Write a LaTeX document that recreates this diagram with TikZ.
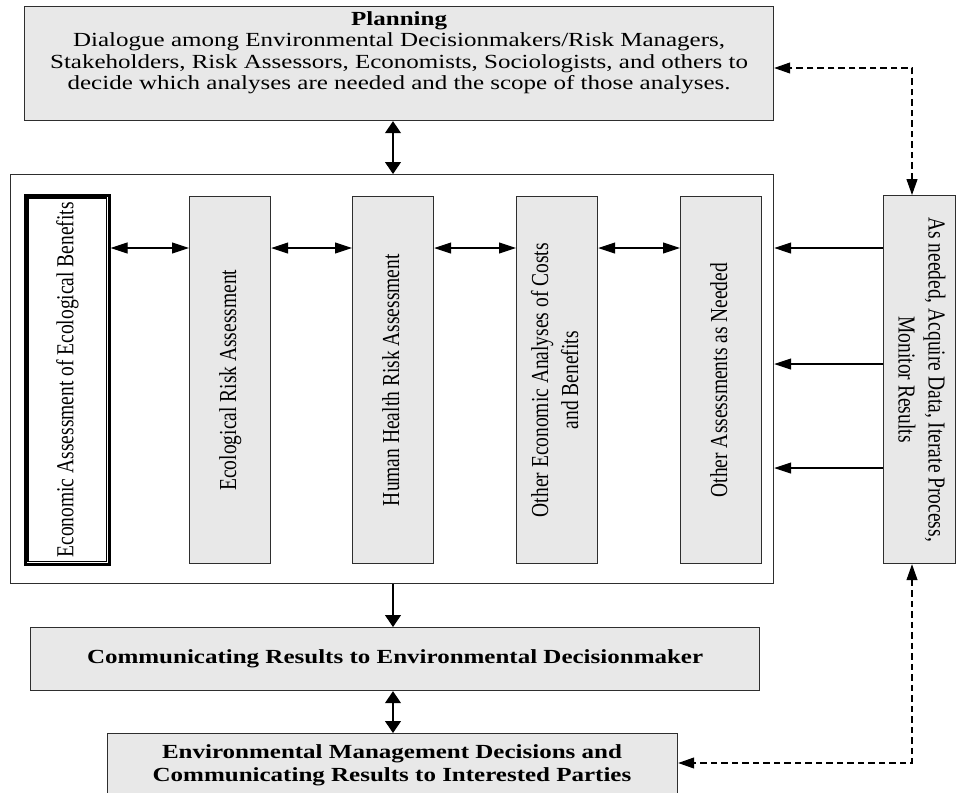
\documentclass[tikz,border=0pt]{standalone}
\usepackage{fontspec}
\setmainfont{Liberation Serif}
\newfontfamily\wideserif[FakeStretch=1.25]{Liberation Serif}
\usetikzlibrary{arrows.meta}

\definecolor{boxfill}{HTML}{E8E8E8}
\definecolor{edge}{HTML}{2E2E2E}

% upright label for the tall assessment boxes
\newcommand\vtxt[2][90]{\rotatebox{#1}{\scalebox{1}[1.25]{\fontsize{19.5}{24}\selectfont\begin{tabular}{@{}c@{}}#2\end{tabular}}}}

\begin{document}
\begin{tikzpicture}[x=1pt,y=-1pt,
  box/.style={draw=edge, line width=1.2pt, fill=boxfill, inner sep=0pt, anchor=north west},
  tallbox/.style={box, minimum width=81pt, minimum height=367pt},
  htext/.style={font=\wideserif\fontsize{20}{22}\selectfont, align=center},
  conn/.style={line width=1.1pt, black},
  vtip/.style={conn, arrows={-Triangle[length=12pt,width=16pt]}},
  vboth/.style={conn, arrows={Triangle[length=12pt,width=16pt]-Triangle[length=12pt,width=16pt]}},
  hboth/.style={conn, arrows={Triangle[length=17pt,width=11pt]-Triangle[length=17pt,width=11pt]}},
  htip/.style={conn, arrows={-Triangle[length=17pt,width=11pt]}},
  feedback/.style={conn, dash pattern=on 6.5pt off 4pt,
    arrows={Triangle[length=16pt,width=11pt]-Triangle[length=16pt,width=11pt]}},
]
\useasboundingbox (0,0) rectangle (957,792);

% planning box, text set from the top
\node[box, minimum width=749pt, minimum height=114pt] (plan) at (24,6)
  {\begin{minipage}[c][114pt][t]{749pt}\centering\wideserif\fontsize{20}{21.5}\selectfont
   \vspace{5pt}\textbf{Planning}\\
   Dialogue among Environmental Decisionmakers/Risk Managers,\\
   Stakeholders, Risk Assessors, Economists, Sociologists, and others to\\
   decide which analyses are needed and the scope of those analyses.\end{minipage}};

% frame holding the assessments
\node[box, fill=white, minimum width=763pt, minimum height=409pt] (frame) at (10,174) {};

% economic assessment: heavy outer rule with a thin inner rule
\node[box, fill=white, draw=black, line width=2.6pt, minimum width=84pt, minimum height=369pt]
  (econ) at (24,194) {\vtxt{Economic Assessment of Ecological Benefits}};
\draw[black, line width=1.3pt] ([shift={(4,4)}]econ.north west) rectangle ([shift={(-4,-4)}]econ.south east);

\node[tallbox] (eco)   at (189,196) {\vtxt{Ecological Risk Assessment}};
\node[tallbox] (human) at (352,196) {\vtxt{Human Health Risk Assessment}};
\node[tallbox] (other) at (516,196) {\vtxt{Other Economic Analyses of Costs\\and Benefits}};
\node[tallbox] (needed) at (680,196) {\vtxt{Other Assessments as Needed}};

\node[box, minimum width=72pt, minimum height=368pt] (mon) at (883,195)
  {\vtxt[-90]{As needed, Acquire Data, Iterate Process,\\Monitor Results}};

\node[box, minimum width=729pt, minimum height=63pt, htext, font=\wideserif\bfseries\fontsize{20}{22}\selectfont]
  (comm) at (30,627) {Communicating Results to Environmental Decisionmaker};

\node[box, minimum width=570pt, minimum height=64pt] (final) at (107,733) {};
\node[htext, font=\wideserif\bfseries\fontsize{20}{23}\selectfont, anchor=center] (finaltxt) at (392,765)
  {Environmental Management Decisions and\\Communicating Results to Interested Parties};

% reference positions for connectors
\coordinate (spine) at (393,0);
\coordinate (row1) at (0,248);
\coordinate (row2) at (0,364);
\coordinate (row3) at (0,468);
\coordinate (fbtop) at (912,68);
\coordinate (fbbot) at (912,763);

% main flow
\draw[vboth] (plan.south -| spine) -- (frame.north -| spine);
\draw[vtip]  (frame.south -| spine) -- (comm.north -| spine);
\draw[vboth] (comm.south -| spine) -- (final.north -| spine);

% links between assessments
\draw[hboth] (econ.east |- row1) -- (eco.west |- row1);
\draw[hboth] (eco.east |- row1) -- (human.west |- row1);
\draw[hboth] (human.east |- row1) -- (other.west |- row1);
\draw[hboth] (other.east |- row1) -- (needed.west |- row1);

% monitoring feeds the assessments
\draw[htip] (mon.west |- row1) -- (frame.east |- row1);
\draw[htip] (mon.west |- row2) -- (frame.east |- row2);
\draw[htip] (mon.west |- row3) -- (frame.east |- row3);

% iteration loops
\draw[feedback] (mon.north -| fbtop) -- (fbtop) -- (plan.east |- fbtop);
\draw[feedback] (mon.south -| fbbot) -- (fbbot) -- (final.east |- fbbot);
\end{tikzpicture}
\end{document}
